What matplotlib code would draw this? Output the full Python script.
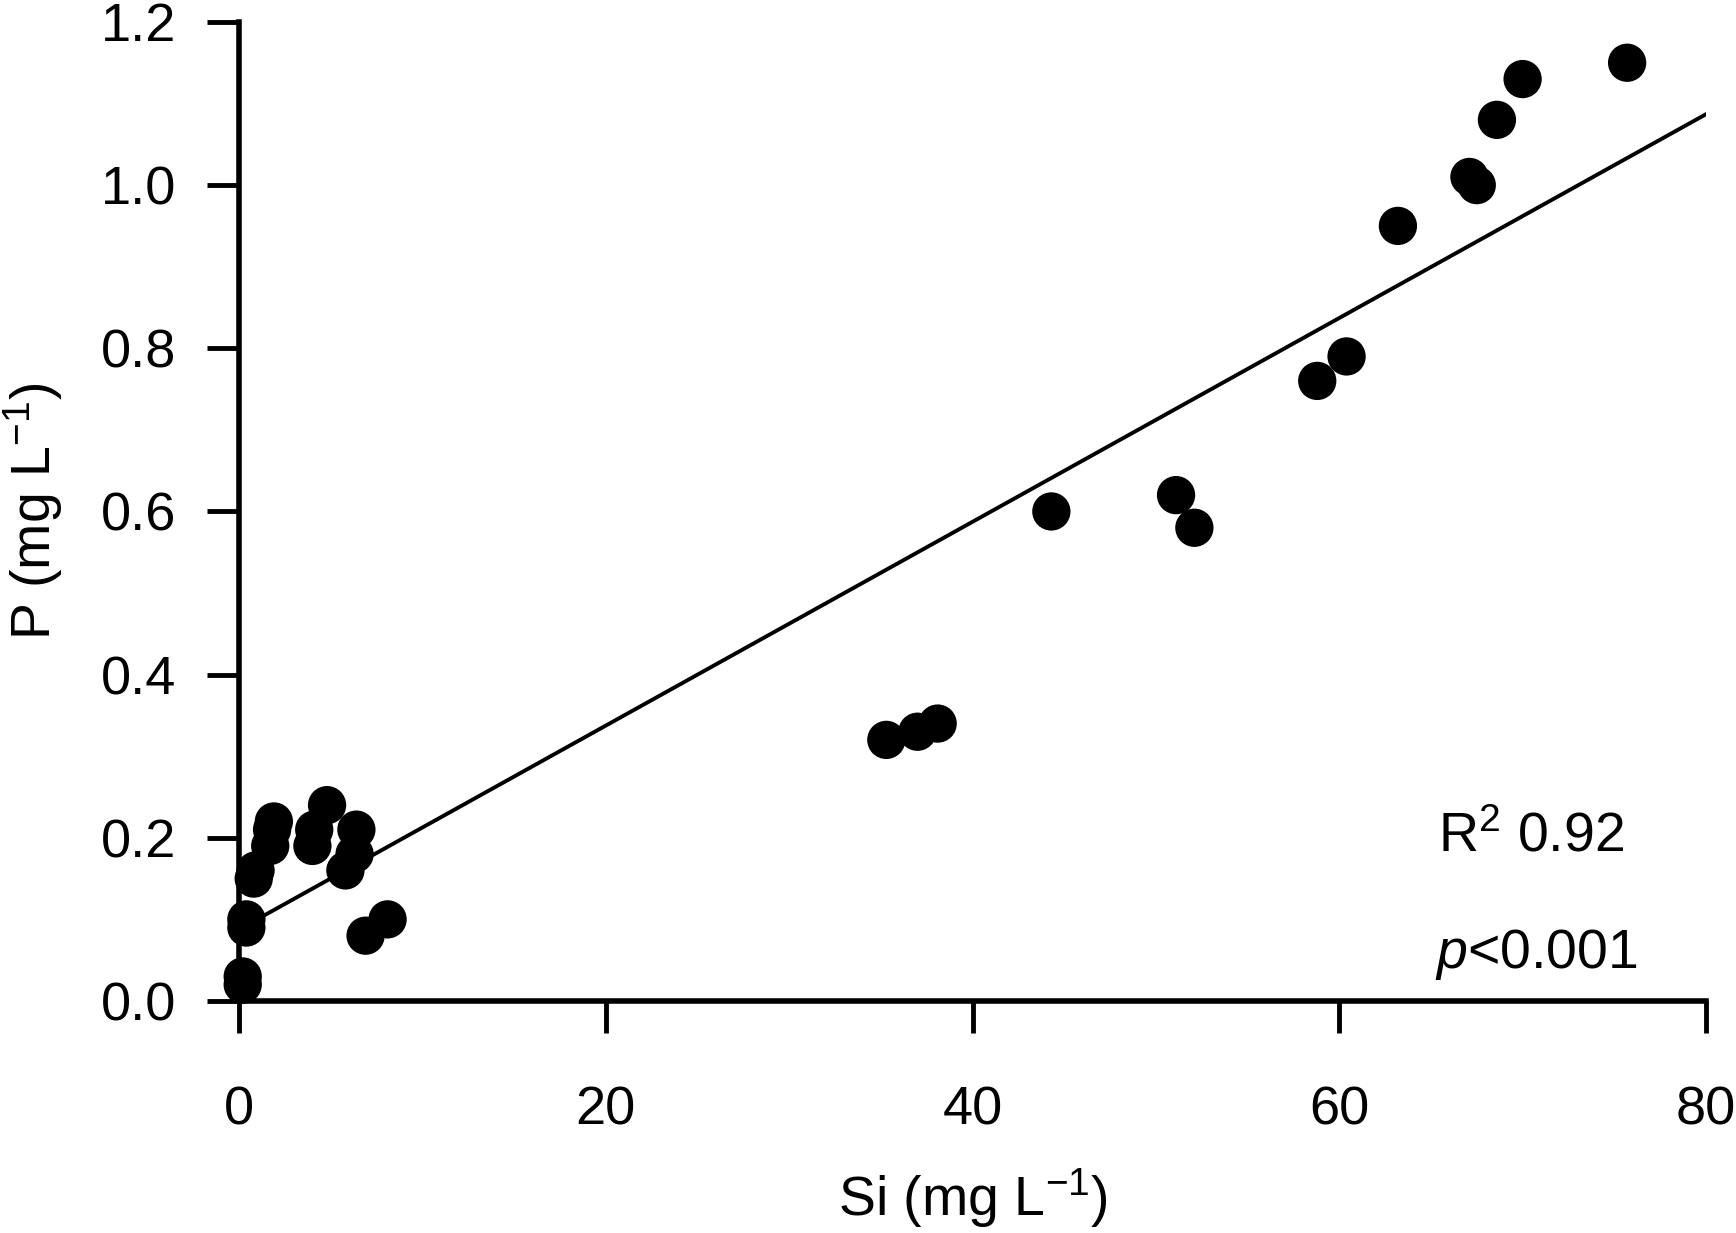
import numpy as np
import matplotlib.pyplot as plt

plt.rcParams['font.family'] = ['Liberation Sans', 'DejaVu Sans']
plt.rcParams['mathtext.fontset'] = 'custom'
plt.rcParams['mathtext.rm'] = 'Liberation Sans'
plt.rcParams['mathtext.it'] = 'Liberation Sans:italic'

# values
si = [0.2, 0.2, 0.4, 0.4, 0.8, 0.9, 1.7, 1.8, 1.9, 4.0, 4.1, 4.8,
      5.8, 6.3, 6.4, 6.9, 8.1,
      35.3, 37.0, 38.1, 44.3, 51.1, 52.1, 58.8, 60.4,
      63.2, 67.1, 67.5, 68.6, 70.0, 75.7]
p = [0.02, 0.03, 0.09, 0.10, 0.15, 0.16, 0.19, 0.21, 0.22, 0.19, 0.21, 0.24,
     0.16, 0.18, 0.21, 0.08, 0.10,
     0.32, 0.33, 0.34, 0.60, 0.62, 0.58, 0.76, 0.79,
     0.95, 1.01, 1.00, 1.08, 1.13, 1.15]

fit_slope = 0.01249
fit_icpt = 0.0877
fit_x = np.array([0.4, 80.0])

fig = plt.figure(figsize=(17.36, 12.33), dpi=100)
ax = fig.add_axes([0.1377, 0.1882, 0.845, 0.794])

ax.scatter(si, p, s=760, c='black', edgecolors='none', clip_on=False, zorder=3)
ax.plot(fit_x, fit_icpt + fit_slope * fit_x, color='black', lw=2.8, zorder=2)

ax.set_xlim(0, 80)
ax.set_ylim(0, 1.2)
ax.set_xticks([0, 20, 40, 60, 80])
ax.set_yticks(np.arange(0, 1.21, 0.2))
ax.set_yticklabels(['0.0', '0.2', '0.4', '0.6', '0.8', '1.0', '1.2'])

for side in ['top', 'right']:
    ax.spines[side].set_visible(False)
for side in ['left', 'bottom']:
    ax.spines[side].set_linewidth(4.0)
    ax.spines[side].set_capstyle('projecting')

ax.tick_params(axis='both', direction='out', length=23, width=3.5, labelsize=39)
ax.tick_params(axis='x', pad=38)
ax.tick_params(axis='y', pad=22)

ax.set_xlabel('Si (mg L$^{-1}$)', fontsize=40, labelpad=22)
ax.set_ylabel('P (mg L$^{-1}$)', fontsize=40, labelpad=26)

ax.text(65.4, 0.2, 'R$^{2}$ 0.92', fontsize=40, ha='left', va='center')
ax.text(65.2, 0.057, '$\\mathit{p}$<0.001', fontsize=40, ha='left', va='center')

fig.savefig('out.png', dpi=100)
